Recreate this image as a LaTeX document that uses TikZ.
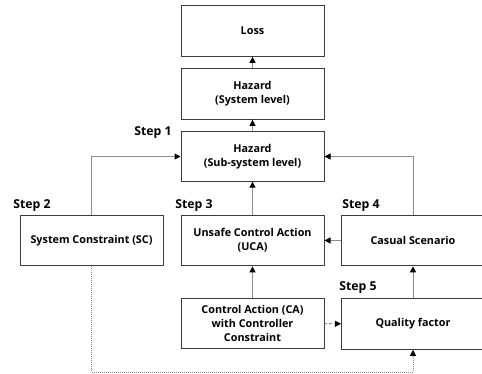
\documentclass[tikz,border=0pt]{standalone}
\usepackage{fontspec}
\setmainfont{Open Sans}
\usetikzlibrary{arrows.meta}
\definecolor{linegray}{HTML}{8C8C8C}
\definecolor{boxline}{HTML}{3C3C3C}
\begin{document}
\begin{tikzpicture}[x=0.75pt,y=-0.75pt,
  box/.style={draw=boxline,line width=0.75pt,fill=white,align=center,
    font=\bfseries\fontsize{8.1}{10.5}\selectfont,inner sep=0pt,
    minimum width=107.25pt,minimum height=38pt},
  steplabel/.style={font=\bfseries\fontsize{9.2}{12}\selectfont,inner sep=0pt},
  link/.style={draw=linegray,line width=0.75pt,
    -{Triangle[length=4.5pt,width=4.5pt,fill=black,color=black]}},
  dotlink/.style={link,dash pattern=on 0.75pt off 0.75pt},
  dashlink/.style={link,dash pattern=on 2pt off 1.5pt}]
\useasboundingbox (0,0) rectangle (482,374);
\clip (0,0) rectangle (482,374);

% boxes
\node[box] (loss) at (252.5,31) {Loss};
\node[box] (hsys) at (252.5,94) {Hazard\\(System level)};
\node[box,minimum height=37pt] (hsub) at (252.5,156.5) {Hazard\\(Sub-system level)};
\node[box] (sc)   at (91.5,240.5) {System Constraint (SC)};
\node[box] (uca)  at (252.5,240.5) {Unsafe Control Action\\(UCA)};
\node[box] (cs)   at (413,240.5) {Casual Scenario};
\node[box] (ca)   at (252.5,323.5) {Control Action (CA)\\with Controller\\Constraint};
\node[box] (qf)   at (413,324) {Quality factor};

% step labels
\node[steplabel] (s1) at (153,133) {Step 1};
\node[steplabel] (s2) at (32,206) {Step 2};
\node[steplabel] (s3) at (194,206) {Step 3};
\node[steplabel] (s4) at (361,206) {Step 4};
\node[steplabel] (s5) at (358,288) {Step 5};

% connectors
\draw[link] (hsys) -- (loss);
\draw[link] (hsub) -- (hsys);
\draw[link] (uca) -- (hsub);
\draw[link] (ca) -- (uca);
\draw[link] (cs) -- (uca);
\draw[link] (qf) -- (cs);
\draw[link] (sc.north) |- (hsub.west);
\draw[link] (cs.north) |- (hsub.east);
\draw[dashlink] (ca) -- (qf);
\coordinate (dl) at (91.5,372);
\coordinate (dr) at (413,372);
\draw[dotlink] (sc.south) -- (dl) -- (dr) -- (qf.south);
\end{tikzpicture}
\end{document}
